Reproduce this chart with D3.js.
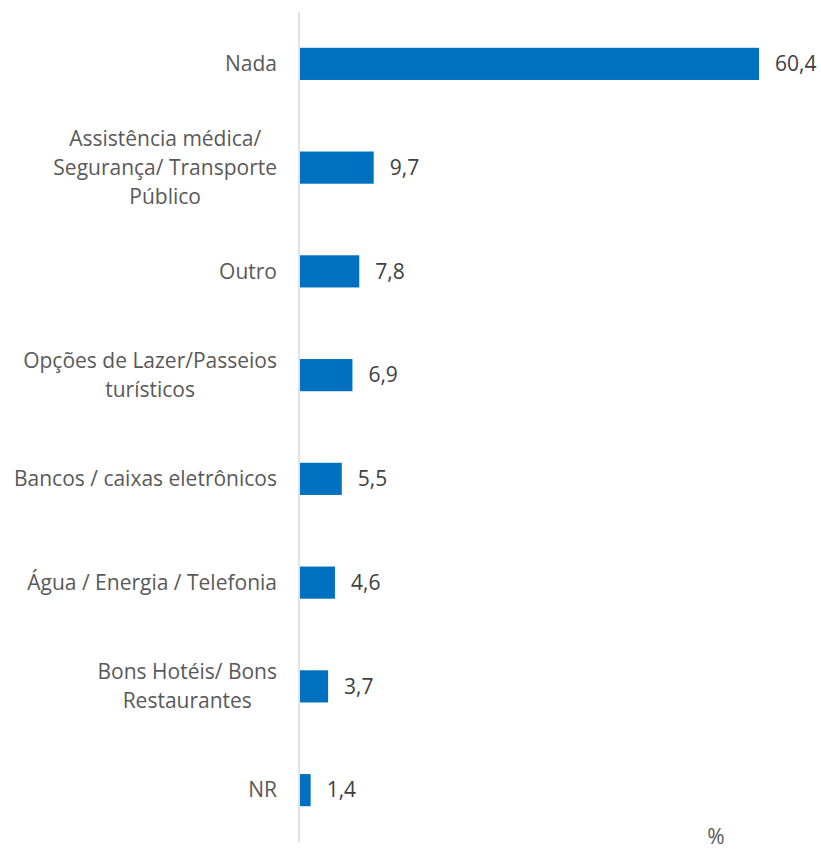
<!DOCTYPE html>
<html><head><meta charset="utf-8">
<script src="https://cdn.jsdelivr.net/npm/d3@7"></script>
<style>body{margin:0;background:#fff;}text{font-family:"Open Sans",sans-serif;}</style>
</head><body>
<svg id="c" width="821" height="849"></svg>
<script>
const categories = [
  ["Nada"],
  ["Assistência médica/", "Segurança/ Transporte", "Público"],
  ["Outro"],
  ["Opções de Lazer/Passeios", "turísticos"],
  ["Bancos / caixas eletrônicos"],
  ["Água / Energia / Telefonia"],
  ["Bons Hotéis/ Bons", "Restaurantes"],
  ["NR"]
];
const values = [60.4, 9.7, 7.8, 6.9, 5.5, 4.6, 3.7, 1.4];
const valueLabels = ["60,4", "9,7", "7,8", "6,9", "5,5", "4,6", "3,7", "1,4"];
const unitLabel = "%";

const svg = d3.select("#c");
const x0 = 300;
const x = d3.scaleLinear().domain([0, 60.4]).range([x0, 759]);
const y = d3.scaleBand().domain(d3.range(categories.length)).range([12, 842]).paddingInner(0.69).paddingOuter(0.345);

svg.selectAll("rect.bar").data(values).join("rect")
  .attr("class", "bar")
  .attr("x", x(0)).attr("y", (d, i) => y(i))
  .attr("width", d => x(d) - x(0)).attr("height", y.bandwidth())
  .attr("fill", "#0070c0");

svg.append("line").attr("x1", 299).attr("x2", 299).attr("y1", 12).attr("y2", 842)
  .attr("stroke", "#d9d9d9").attr("stroke-width", 1.5);

svg.selectAll("text.val").data(values).join("text")
  .attr("class", "val")
  .attr("x", d => x(d) + 16).attr("y", (d, i) => y(i) + y.bandwidth() / 2)
  .attr("dy", "0.35em").attr("font-size", 21).attr("fill", "#404040")
  .text((d, i) => valueLabels[i]);

const lineH = 29;
categories.forEach((lines, i) => {
  const g = svg.append("g");
  const cy = y(i) + y.bandwidth() / 2;
  const ts = lines.map((l, j) => g.append("text")
    .attr("y", cy + (j - (lines.length - 1) / 2) * lineH)
    .attr("dy", "0.35em").attr("font-size", 21).attr("fill", "#595959")
    .attr("text-anchor", "middle").text(l));
  const w = d3.max(ts, t => t.node().getComputedTextLength());
  ts.forEach(t => t.attr("x", 277 - w / 2));
});

svg.append("text").attr("x", 716).attr("y", 837).attr("dy", "0.35em")
  .attr("text-anchor", "middle").attr("font-size", 21).attr("fill", "#595959").text(unitLabel);
</script>
</body></html>
